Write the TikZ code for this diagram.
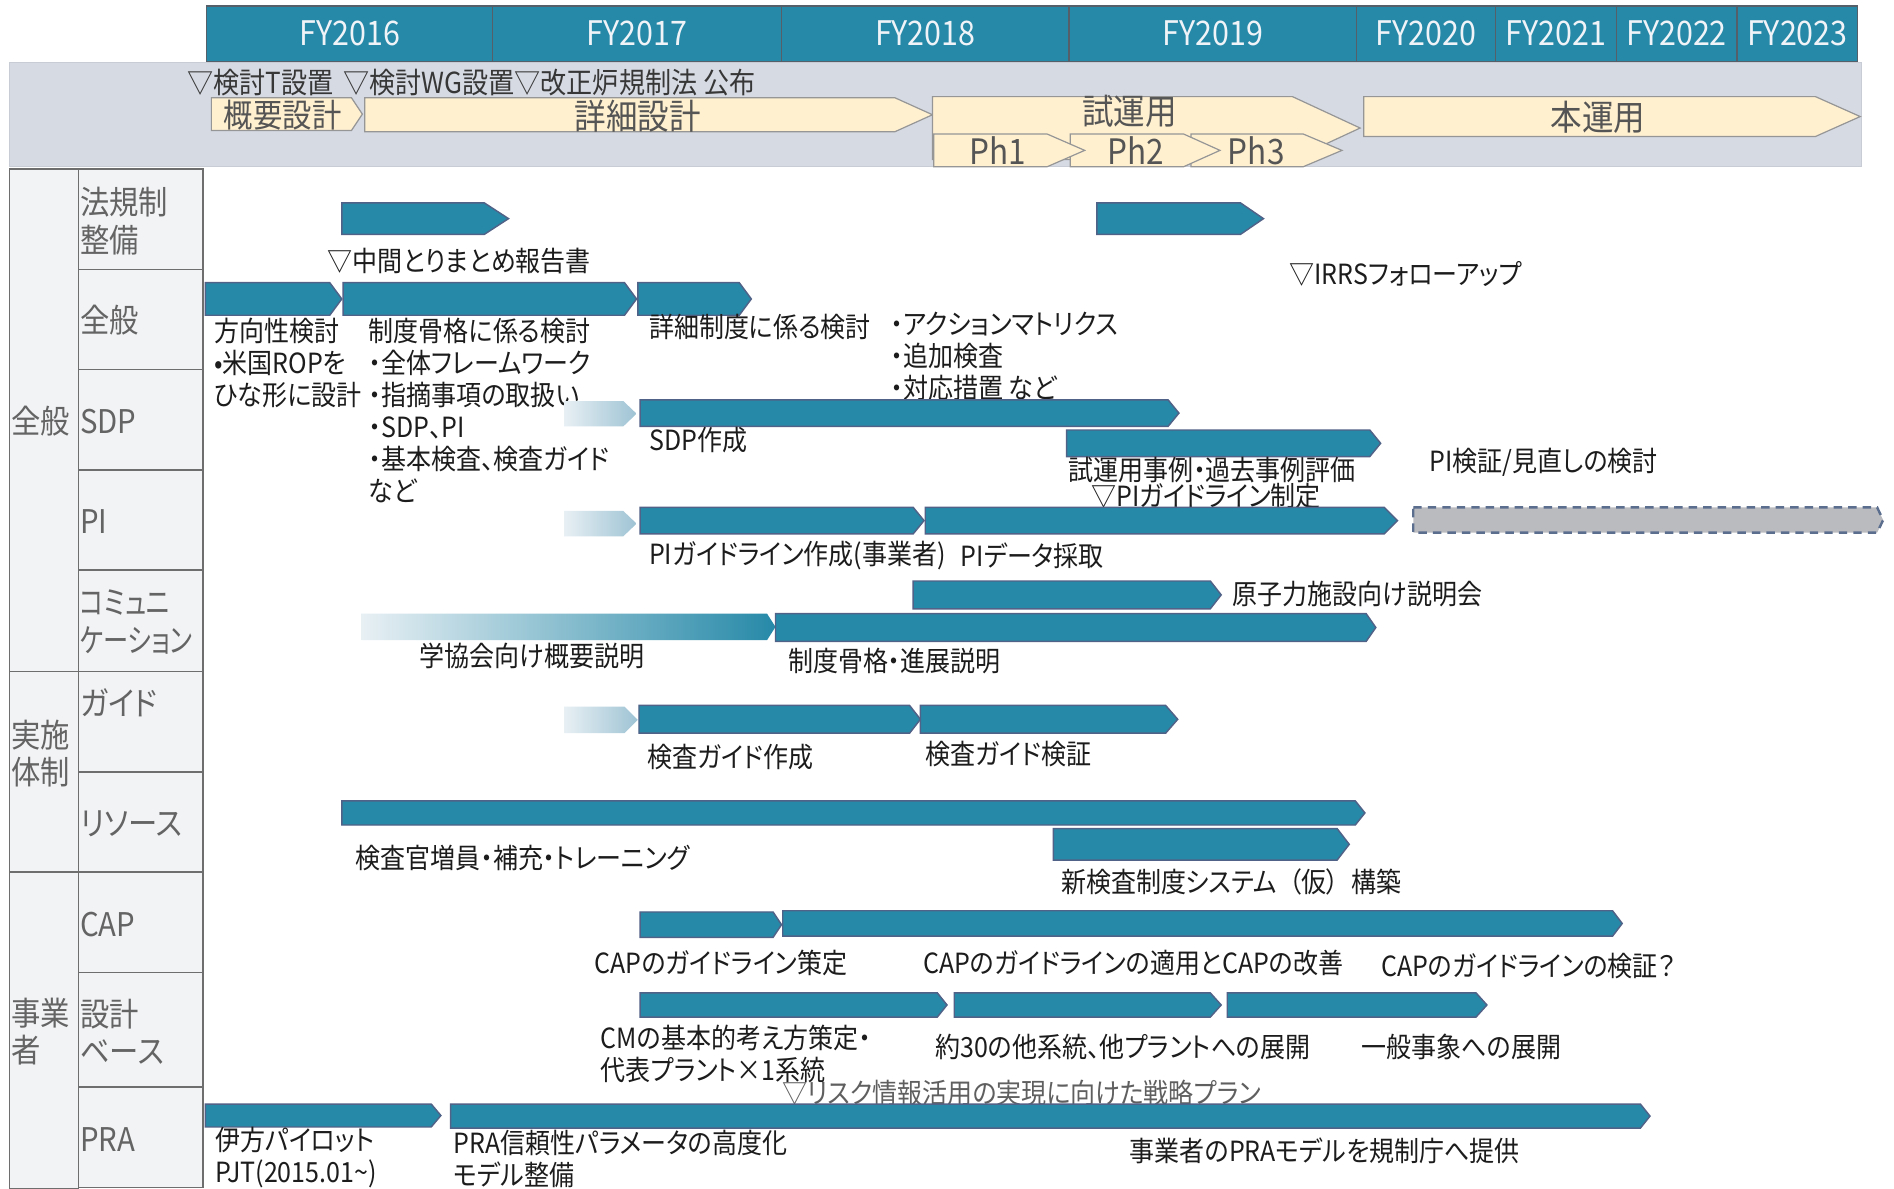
\documentclass[tikz,border=0pt]{standalone}
\usepackage{fontspec}
\setmainfont{Noto Sans CJK JP}[RawFeature=+palt,FakeStretch=0.9]
\definecolor{tealf}{RGB}{38,137,168}
\definecolor{tealb}{RGB}{80,98,135}
\definecolor{hdrline}{RGB}{85,95,105}
\definecolor{bandf}{RGB}{214,218,227}
\definecolor{bandb}{RGB}{200,204,212}
\definecolor{creamf}{RGB}{255,240,208}
\definecolor{creamb}{RGB}{150,150,150}
\definecolor{tabf}{RGB}{242,243,245}
\definecolor{tabb}{RGB}{110,110,110}
\definecolor{txtc}{RGB}{28,28,28}
\definecolor{labc}{RGB}{100,100,100}
\definecolor{phc}{RGB}{85,85,85}
\definecolor{msc}{RGB}{55,55,55}
\definecolor{riskc}{RGB}{95,95,95}
\definecolor{dashf}{RGB}{186,187,191}
\definecolor{dashb}{RGB}{92,110,142}
\definecolor{gradl}{RGB}{232,240,244}
\definecolor{gradm}{RGB}{158,195,212}
\definecolor{hdrtxt}{RGB}{240,244,248}
\newcommand\tealbar[5]{\draw[barsty] (#1,#3) -- ({#2-#5},#3) -- (#2,{(#3+#4)/2}) -- ({#2-#5},#4) -- (#1,#4) -- cycle;}
\newcommand\fadebar[6]{\shade[left color=gradl,right color=#6] (#1,#3) -- ({#2-#5},#3) -- (#2,{(#3+#4)/2}) -- ({#2-#5},#4) -- (#1,#4) -- cycle;}
\newcommand\phasebar[5]{\draw[phsty] (#1,#3) -- ({#2-#5},#3) -- (#2,{(#3+#4)/2}) -- ({#2-#5},#4) -- (#1,#4) -- cycle;}
\begin{document}
\begin{tikzpicture}[x=0.5pt,y=-0.5pt,
  barsty/.style={fill=tealf,draw=tealb,line width=0.6pt},
  phsty/.style={fill=creamf,draw=creamb,line width=0.5pt},
  lbl/.style={anchor=west,inner sep=0pt,text=txtc,font=\fontsize{11.5}{13.25}\selectfont,align=left},
  rowlbl/.style={anchor=west,inner sep=0pt,text=labc,font=\fontsize{13.5}{15.5}\selectfont,align=left},
  hdr/.style={inner sep=0pt,text=hdrtxt,font=\fontsize{14}{16}\selectfont},
  phlbl/.style={inner sep=0pt,text=phc,font=\fontsize{14.5}{16}\selectfont},
  mslbl/.style={anchor=west,inner sep=0pt,text=msc,font=\fontsize{12}{14}\selectfont}]
\useasboundingbox (0,0) rectangle (1568,984);
\fill[white] (0,0) rectangle (1568,984);

% header
\foreach \a/\b/\t [count=\i] in {171/408/FY2016,408/647/FY2017,647/885/FY2018,885/1123/FY2019,1123/1238/FY2020,1238/1338/FY2021,1338/1438/FY2022,1438/1538/FY2023}{
  \draw[fill=tealf,draw=hdrline,line width=0.5pt] (\a,5) rectangle (\b,51);
  \node[hdr] (fy\i) at ({(\a+\b)/2},28) {\t};
}

% gray band
\draw[fill=bandf,draw=bandb,line width=0.5pt] (8,52) rectangle (1541,138);
\node[mslbl] (ms1) at (155,68) {▽検討T設置};
\node[mslbl] (ms2) at (284,68) {▽検討WG設置▽改正炉規制法 公布};

\phasebar{175}{300}{81}{108}{9}
\node[phlbl,font=\fontsize{13.5}{15}\selectfont] (ph0) at (234,95) {概要設計};
\phasebar{302}{772}{81}{109}{31}
\node[phlbl] (ph1) at (528,96) {詳細設計};
\phasebar{772}{1126}{80}{132}{56}
\node[phlbl] (ph2) at (935,92) {試運用};
\phasebar{986}{1111}{111}{138}{32}
\phasebar{886}{1010}{111}{138}{30}
\phasebar{773}{898}{111}{138}{31}
\node[phlbl] (p1) at (826,125) {Ph1};
\node[phlbl] (p2) at (940,125) {Ph2};
\node[phlbl] (p3) at (1040,125) {Ph3};
\phasebar{1129}{1540}{80}{113}{37}
\node[phlbl] (ph3) at (1323,97) {本運用};

% table
\foreach \a/\b in {140/556,556/722,722/984}{
  \draw[fill=tabf,draw=tabb,line width=0.6pt] (8,\a) rectangle (65,\b);
}
\foreach \a/\b in {140/223,223/306,306/389,389/472,472/556,556/639,639/722,722/805,805/900,900/983}{
  \draw[fill=tabf,draw=tabb,line width=0.6pt] (65,\a) rectangle (168,\b);
}
\node[rowlbl] (g1) at (9,349) {全般};
\node[rowlbl] (g2) at (9,624) {実施\\体制};
\node[rowlbl] (g3) at (9,854) {事業\\者};
\node[rowlbl] (r1) at (66,183) {法規制\\整備};
\node[rowlbl] (r2) at (66,265) {全般};
\node[rowlbl] (r3) at (66,349) {SDP};
\node[rowlbl] (r4) at (66,432) {PI};
\node[rowlbl] (r5) at (66,515) {\scalebox{0.86}[1]{コミュニ}\\\scalebox{0.86}[1]{ケーション}};
\node[rowlbl] (r6) at (66,582) {ガイド};
\node[rowlbl] (r7) at (66,682) {リソース};
\node[rowlbl] (r8) at (66,765) {CAP};
\node[rowlbl] (r9) at (66,854) {設計\\ベース};
\node[rowlbl] (r10) at (66,943) {PRA};

% 法規制整備
\tealbar{283}{421}{168}{194}{20}
\tealbar{908}{1046}{168}{194}{19}
\node[lbl] (chukan) at (271,216) {▽中間とりまとめ報告書};
\node[lbl] (irrs) at (1067,227) {▽IRRSフォローアップ};

% 全般
\tealbar{170}{283}{234}{261}{10}
\tealbar{284}{527}{234}{261}{10}
\tealbar{528}{622}{234}{261}{10}
\node[lbl] (hoko) at (177,300.7) {方向性検討\\•米国ROPを\\ひな形に設計};
\node[lbl] (seido) at (305,340) {制度骨格に係る検討\\・全体フレームワーク\\・指摘事項の取扱い\\・SDP、PI\\・基本検査、検査ガイド\\など};
\node[lbl] (shosai) at (537,271) {詳細制度に係る検討};
\node[lbl] (action) at (737,294.7) {・アクションマトリクス\\・追加検査\\・対応措置 など};

% SDP
\fadebar{467}{527}{332}{353}{11}{gradm}
\tealbar{530}{976}{331}{353}{9}
\tealbar{883}{1143}{356}{378}{9}
\node[lbl] (sdp) at (537,364) {SDP作成};
\node[lbl] (shiun) at (884,389) {試運用事例・過去事例評価};
\node[lbl] (piguide) at (903,411) {▽PIガイドライン制定};
\node[lbl] (pikensho) at (1183,383) {PI検証/見直しの検討};

% PI
\fadebar{467}{527}{423}{444}{11}{gradm}
\tealbar{530}{765}{420}{442}{9}
\tealbar{766}{1157}{420}{442}{11}
\draw[fill=dashf,draw=dashb,line width=1pt,dash pattern=on 3.5pt off 2.5pt] (1170,420) -- (1554,420) -- (1559,430.5) -- (1554,441) -- (1170,441) -- cycle;
\node[lbl] (pisakusei) at (537,460) {PIガイドライン作成(事業者)};
\node[lbl] (pidata) at (795,460) {PIデータ採取};

% コミュニケーション
\tealbar{756}{1011}{481}{504}{9}
\fadebar{299}{642}{508}{530}{7}{tealf}
\tealbar{642}{1139}{508}{531}{8}
\node[lbl] (genshi) at (1020,492) {原子力施設向け説明会};
\node[lbl] (gakkyo) at (347,543) {学協会向け概要説明};
\node[lbl] (kokkaku) at (652,547) {制度骨格・進展説明};

% ガイド
\fadebar{467}{528}{585}{607}{11}{gradm}
\tealbar{529}{762}{584}{607}{9}
\tealbar{762}{975}{584}{607}{10}
\node[lbl] (kgsakusei) at (536,627) {検査ガイド作成};
\node[lbl] (kgkensho) at (766,624) {検査ガイド検証};

% リソース
\tealbar{283}{1130}{663}{683}{8}
\tealbar{872}{1117}{686}{712}{10}
\node[lbl] (kensakan) at (294,710) {検査官増員・補充・トレーニング};
\node[lbl] (shinkensa) at (878,730) {新検査制度システム\hspace{5pt}（仮）\hspace{5pt}構築};

% CAP
\tealbar{530}{647}{755}{776}{7}
\tealbar{648}{1343}{754}{775}{8}
\node[lbl] (capsakutei) at (492,797) {CAPのガイドライン策定};
\node[lbl] (captekiyo) at (764,797) {CAPのガイドラインの適用とCAPの改善};
\node[lbl] (capkensho) at (1143,800) {CAPのガイドラインの検証？};

% 設計ベース
\tealbar{530}{784}{822}{842}{8}
\tealbar{790}{1011}{822}{842}{9}
\tealbar{1016}{1231}{822}{842}{9}
\node[lbl] (cm) at (497,872.5) {CMの基本的考え方策定・\\代表プラント×1系統};
\node[lbl] (yaku30) at (774,867) {約30の他系統、他プラントへの展開};
\node[lbl] (ippan) at (1127,867) {一般事象への展開};
\node[lbl,text=riskc] (risk) at (647,905) {▽リスク情報活用の実現に向けた戦略プラン};

% PRA
\tealbar{170}{365}{914}{933}{8}
\tealbar{373}{1366}{914}{934}{8}
\node[lbl] (ikata) at (178,958) {伊方パイロット\\PJT(2015.01\textasciitilde)};
\node[lbl] (pra) at (375,959.5) {PRA信頼性パラメータの高度化\\モデル整備};
\node[lbl] (jigyo) at (935,953) {事業者のPRAモデルを規制庁へ提供};
\end{tikzpicture}
\end{document}
